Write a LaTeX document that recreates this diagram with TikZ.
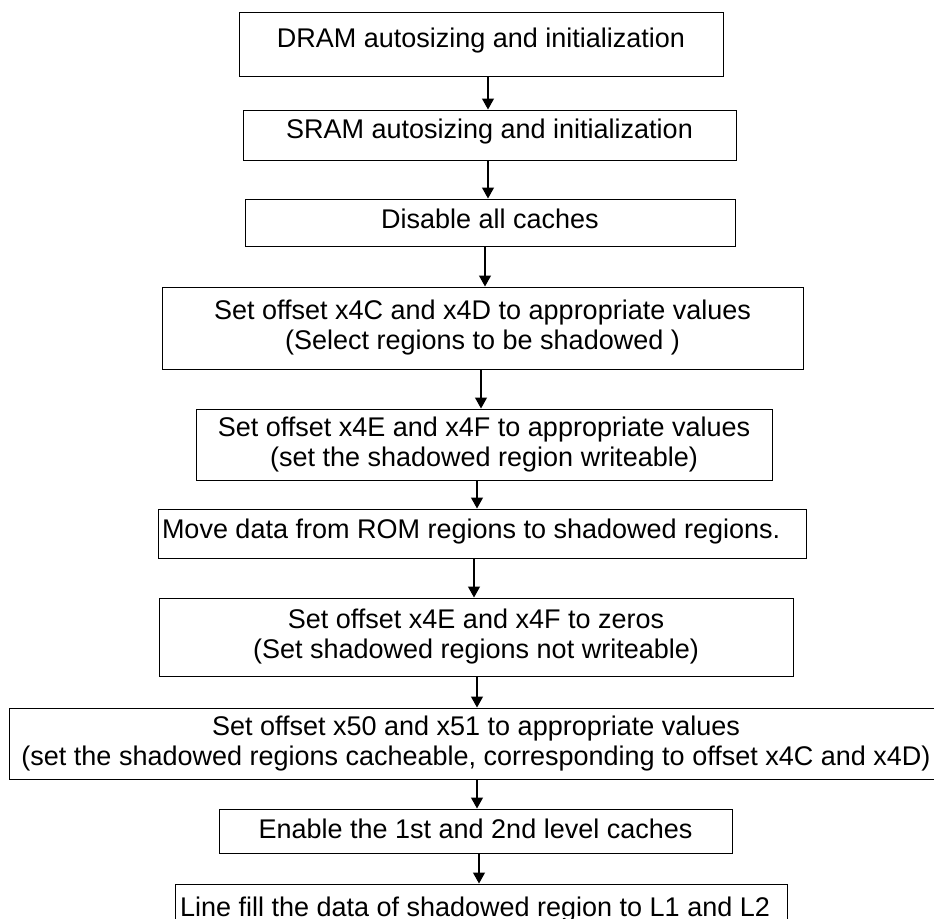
\documentclass[tikz,border=0pt]{standalone}
\usepackage{fontspec}
\setmainfont[Ligatures=CommonOff]{Liberation Sans}
\usetikzlibrary{arrows.meta}
\begin{document}
\begin{tikzpicture}[x=1pt,y=-1pt,
  stepbox/.style={draw=black, line width=1pt, inner sep=0pt,
    font=\fontsize{27}{30}\selectfont, align=center},
  arr/.style={line width=1.2pt, -{Triangle[width=12pt,length=11pt]}}]
\useasboundingbox (0,0) rectangle (934,918);

\node[stepbox, minimum width=484pt, minimum height=64pt, text height=20pt, text depth=14pt]
  (b1) at (481,44) {DRAM autosizing and initialization};
\node[stepbox, minimum width=493pt, minimum height=50pt, text height=20pt, text depth=14pt]
  (b2) at (489.5,135) {SRAM autosizing and initialization};
\node[stepbox, minimum width=490pt, minimum height=47pt, text height=20pt, text depth=9pt]
  (b3) at (490,222.5) {Disable all caches};
\node[stepbox, minimum width=641pt, minimum height=82pt]
  (b4) at (482.5,328) {Set offset x4C and x4D to appropriate values\\(Select regions to be shadowed )};
\node[stepbox, minimum width=576pt, minimum height=71pt]
  (b5) at (484,444.5) {Set offset x4E and x4F to appropriate values\\(set the shadowed region writeable)};
\node[stepbox, inner xsep=4pt, minimum width=648pt, minimum height=49pt, text height=20pt, text depth=11pt]
  (b6) at (482,533.5) {\makebox[640pt][l]{Move data from ROM regions to shadowed regions.}};
\node[stepbox, minimum width=634pt, minimum height=78pt]
  (b7) at (476,637) {Set offset x4E and x4F to zeros\\(Set shadowed regions not writeable)};
\node[stepbox, minimum width=934pt, minimum height=71pt]
  (b8) at (476,743.5) {Set offset x50 and x51 to appropriate values\\(set the shadowed regions cacheable, corresponding to offset x4C and x4D)};
\node[stepbox, minimum width=513pt, minimum height=44pt, text height=20pt, text depth=6pt]
  (b9) at (475.5,831) {Enable the 1st and 2nd level caches};
\node[stepbox, inner xsep=5pt, minimum width=612pt, minimum height=46pt, text height=22pt, text depth=4pt]
  (b10) at (481,907) {\makebox[602pt][l]{Line fill the data of shadowed region to L1 and L2}};

\draw[arr] ([xshift=7pt]b1.south) -- ([xshift=-1.5pt]b2.north);
\draw[arr] ([xshift=-1.5pt]b2.south) -- ([xshift=-2pt]b3.north);
\draw[arr] ([xshift=-5pt]b3.south) -- ([xshift=2.5pt]b4.north);
\draw[arr] ([xshift=-1.5pt]b4.south) -- ([xshift=-3pt]b5.north);
\draw[arr] ([xshift=-7pt]b5.south) -- ([xshift=-5pt]b6.north);
\draw[arr] ([xshift=-8pt]b6.south) -- ([xshift=-2pt]b7.north);
\draw[arr] ([xshift=1pt]b7.south) -- ([xshift=1pt]b8.north);
\draw[arr] ([xshift=1pt]b8.south) -- ([xshift=1.5pt]b9.north);
\draw[arr] ([xshift=3.5pt]b9.south) -- ([xshift=-2pt]b10.north);
\end{tikzpicture}
\end{document}
